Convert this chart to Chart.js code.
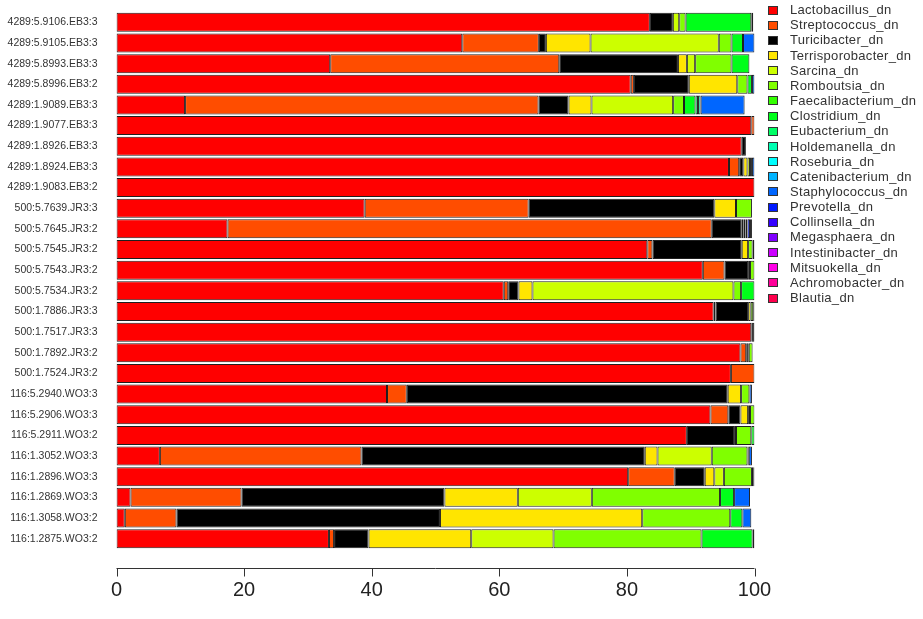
<!DOCTYPE html>
<html>
<head>
<meta charset="utf-8">
<script src="https://cdn.jsdelivr.net/npm/chart.js@4/dist/chart.umd.min.js"></script>
<style>
  html, body { margin: 0; padding: 0; background: #ffffff; }
  #wrap { width: 923px; height: 619px; position: relative; }
</style>
</head>
<body>
<div id="wrap"><canvas id="c" width="923" height="619"></canvas></div>
<script>
// Samples (top to bottom)
const samples = [
  '4289:5.9106.EB3:3', '4289:5.9105.EB3:3', '4289:5.8993.EB3:3', '4289:5.8996.EB3:2',
  '4289:1.9089.EB3:3', '4289:1.9077.EB3:3', '4289:1.8926.EB3:3', '4289:1.8924.EB3:3',
  '4289:1.9083.EB3:2', '500:5.7639.JR3:3', '500:5.7645.JR3:2', '500:5.7545.JR3:2',
  '500:5.7543.JR3:2', '500:5.7534.JR3:2', '500:1.7886.JR3:3', '500:1.7517.JR3:3',
  '500:1.7892.JR3:2', '500:1.7524.JR3:2', '116:5.2940.WO3:3', '116:5.2906.WO3:3',
  '116:5.2911.WO3:2', '116:1.3052.WO3:3', '116:1.2896.WO3:3', '116:1.2869.WO3:3',
  '116:1.3058.WO3:2', '116:1.2875.WO3:2'
];

const genera = [
  'Lactobacillus_dn', 'Streptococcus_dn', 'Turicibacter_dn', 'Terrisporobacter_dn',
  'Sarcina_dn', 'Romboutsia_dn', 'Faecalibacterium_dn', 'Clostridium_dn',
  'Eubacterium_dn', 'Holdemanella_dn', 'Roseburia_dn', 'Catenibacterium_dn',
  'Staphylococcus_dn', 'Prevotella_dn', 'Collinsella_dn', 'Megasphaera_dn',
  'Intestinibacter_dn', 'Mitsuokella_dn', 'Achromobacter_dn', 'Blautia_dn'
];

const genusColors = [
  '#FF0000', '#FF4D00', '#000000', '#FFE500', '#CCFF00', '#80FF00', '#33FF00', '#00FF19',
  '#00FF66', '#00FFB2', '#00FFFF', '#00B3FF', '#0066FF', '#0019FF', '#3300FF', '#7F00FF',
  '#CC00FF', '#FF00E6', '#FF0099', '#FF004D'
];

const xTicks = [0, 20, 40, 60, 80, 100];

// Relative abundance (%) per genus, one value per sample
const lactobacillus    = [83.6, 54.2, 33.5, 80.6, 10.75, 99.5, 98.0, 96.0, 100, 38.9, 17.4, 83.2, 91.9, 60.7, 93.6, 99.5, 97.8, 96.3, 42.4, 93.1, 89.4, 6.8, 80.2, 2.2, 1.3, 33.3];
const streptococcus    = [0, 12.0, 35.9, 0.5, 55.4, 0.5, 0, 1.6, 0, 25.7, 75.9, 0.8, 3.4, 0.7, 0.3, 0, 0.9, 3.7, 3.1, 2.8, 0, 31.6, 7.3, 17.4, 8.1, 0.8];
const turicibacter     = [3.6, 1.1, 18.6, 8.6, 4.7, 0, 0.65, 0.65, 0, 29.1, 4.7, 14.0, 3.7, 1.6, 5.1, 0.5, 0.4, 0, 50.3, 1.9, 7.4, 44.4, 4.7, 31.8, 41.3, 5.4];
const terrisporobacter = [0, 7.0, 1.4, 7.6, 3.6, 0, 0, 0.65, 0, 3.4, 0.3, 1.0, 0.3, 2.2, 0.4, 0, 0, 0, 2.1, 1.2, 0.3, 2.0, 1.5, 11.5, 31.7, 16.1];
const sarcina          = [1.0, 20.1, 1.3, 0, 12.8, 0, 0, 0.4, 0, 0, 0, 0, 0, 31.5, 0, 0, 0, 0, 0, 0.3, 0, 8.5, 1.5, 11.6, 0, 12.9];
const romboutsia       = [1.0, 2.0, 5.7, 1.6, 1.7, 0, 0, 0, 0, 2.5, 0, 0.7, 0.7, 1.2, 0.4, 0, 0.6, 0, 1.3, 0.7, 2.4, 5.6, 4.4, 20.1, 13.8, 23.2];
const faecalibacterium = [0, 0, 0, 0, 0, 0, 0, 0, 0, 0, 0, 0, 0, 0, 0, 0, 0, 0, 0, 0, 0, 0, 0, 0, 0, 0];
const clostridium      = [10.3, 1.8, 2.8, 0.7, 1.8, 0, 0, 0.3, 0, 0, 0.3, 0.3, 0, 2.1, 0.2, 0, 0, 0, 0, 0, 0.5, 0.2, 0.2, 2.2, 1.9, 8.0];
const eubacterium      = [0.3, 0, 0, 0, 0.4, 0, 0, 0, 0, 0, 0, 0, 0, 0, 0, 0, 0, 0, 0, 0, 0, 0, 0, 0, 0, 0.3];
const holdemanella     = [0, 0, 0, 0, 0.4, 0, 0, 0, 0, 0, 0, 0, 0, 0, 0, 0, 0, 0, 0, 0, 0, 0, 0, 0, 0, 0];
const roseburia        = [0, 0, 0, 0, 0, 0, 0, 0, 0, 0, 0, 0, 0, 0, 0, 0, 0, 0, 0, 0, 0, 0, 0, 0, 0, 0];
const catenibacterium  = [0, 0, 0, 0, 0, 0, 0, 0, 0, 0, 0.3, 0, 0, 0, 0, 0, 0, 0, 0, 0, 0, 0, 0, 0, 0, 0];
const staphylococcus   = [0, 1.8, 0, 0.4, 6.9, 0, 0, 0.4, 0, 0, 0, 0, 0, 0, 0, 0, 0, 0, 0.4, 0, 0, 0.5, 0.2, 2.5, 1.4, 0];
const prevotella       = [0, 0, 0, 0, 0, 0, 0, 0, 0, 0, 0.4, 0, 0, 0, 0, 0, 0, 0, 0, 0, 0, 0, 0, 0, 0, 0];
const collinsella      = [0, 0, 0, 0, 0, 0, 0, 0, 0, 0, 0, 0, 0, 0, 0, 0, 0, 0, 0, 0, 0, 0, 0, 0, 0, 0];
const megasphaera      = [0, 0, 0, 0, 0, 0, 0, 0, 0, 0, 0, 0, 0, 0, 0, 0, 0, 0, 0, 0, 0, 0, 0, 0, 0, 0];
const intestinibacter  = [0, 0, 0, 0, 0, 0, 0, 0, 0, 0, 0, 0, 0, 0, 0, 0, 0, 0, 0, 0, 0, 0, 0, 0, 0, 0];
const mitsuokella      = [0, 0, 0, 0, 0, 0, 0, 0, 0, 0, 0, 0, 0, 0, 0, 0, 0, 0, 0, 0, 0, 0, 0, 0, 0, 0];
const achromobacter    = [0, 0, 0, 0, 0, 0, 0, 0, 0, 0, 0.3, 0, 0, 0, 0, 0, 0, 0, 0, 0, 0, 0, 0, 0, 0, 0];
const blautia          = [0, 0, 0, 0, 0, 0, 0, 0, 0, 0, 0, 0, 0, 0, 0, 0, 0, 0, 0, 0, 0, 0, 0, 0, 0, 0];

const series = [
  lactobacillus, streptococcus, turicibacter, terrisporobacter, sarcina, romboutsia,
  faecalibacterium, clostridium, eubacterium, holdemanella, roseburia, catenibacterium,
  staphylococcus, prevotella, collinsella, megasphaera, intestinibacter, mitsuokella,
  achromobacter, blautia
];

const datasets = genera.map((name, i) => ({
  label: name,
  data: series[i],
  backgroundColor: genusColors[i],
  borderColor: '#1e1e1e',
  borderWidth: 1,
  borderSkipped: false,
  barPercentage: 0.92,
  categoryPercentage: 1.0
}));

// Axis line with tick marks, set a little below the bars
const axisLinePlugin = {
  id: 'axisLine',
  afterDraw(chart) {
    const xs = chart.scales.x;
    const ctx = chart.ctx;
    const y = Math.round(chart.chartArea.bottom + 19) + 0.5;
    ctx.save();
    ctx.strokeStyle = '#333333';
    ctx.lineWidth = 1;
    ctx.beginPath();
    ctx.moveTo(xs.getPixelForValue(xTicks[0]), y);
    ctx.lineTo(xs.getPixelForValue(xTicks[xTicks.length - 1]), y);
    xs.ticks.forEach(t => {
      const px = Math.round(xs.getPixelForValue(t.value)) + 0.5;
      ctx.moveTo(px, y);
      ctx.lineTo(px, y + 8);
    });
    ctx.stroke();
    ctx.restore();
  }
};

// Key of genera drawn in the right margin
const sideLegendPlugin = {
  id: 'sideLegend',
  afterDraw(chart) {
    const ctx = chart.ctx;
    const x0 = 768, y0 = 10, step = 15.16;
    ctx.save();
    ctx.font = '13px "Liberation Sans", Arial, sans-serif';
    if ('letterSpacing' in ctx) ctx.letterSpacing = '0.3px';
    ctx.textBaseline = 'middle';
    ctx.textAlign = 'left';
    chart.data.datasets.forEach((ds, i) => {
      const cy = y0 + i * step;
      ctx.fillStyle = ds.backgroundColor;
      ctx.fillRect(x0, Math.round(cy - 4.5), 10, 9);
      ctx.strokeStyle = '#333333';
      ctx.lineWidth = 1;
      ctx.strokeRect(x0 + 0.5, Math.round(cy - 4.5) + 0.5, 9, 8);
      ctx.fillStyle = '#333333';
      ctx.fillText(ds.label, 790, cy + 0.5);
    });
    ctx.restore();
  }
};

new Chart(document.getElementById('c'), {
  type: 'bar',
  data: { labels: samples, datasets },
  options: {
    indexAxis: 'y',
    responsive: false,
    devicePixelRatio: 1,
    animation: false,
    layout: { padding: { top: 12, right: 168.5, bottom: 0, left: 0 } },
    plugins: {
      legend: { display: false },
      tooltip: { enabled: false }
    },
    scales: {
      x: {
        stacked: true,
        min: 0,
        max: 100,
        afterBuildTicks(scale) { scale.ticks = xTicks.map(v => ({ value: v })); },
        ticks: {
          color: '#222222',
          font: { family: '"Liberation Sans", Arial, sans-serif', size: 20 },
          padding: 29,
          maxRotation: 0
        },
        grid: { display: false, drawTicks: false },
        border: { display: false },
        afterFit(scale) {
          scale.height = 70;
          scale.paddingLeft = 0;
          scale.paddingRight = 0;
        }
      },
      y: {
        stacked: true,
        ticks: {
          color: '#333333',
          font: { family: '"Liberation Sans", Arial, sans-serif', size: 10.5 },
          padding: 19,
          autoSkip: false
        },
        grid: { display: false, drawTicks: false },
        border: { display: false },
        afterFit(scale) {
          scale.width = 116.5;
          scale.paddingTop = 0;
          scale.paddingBottom = 0;
        }
      }
    }
  },
  plugins: [axisLinePlugin, sideLegendPlugin]
});
</script>
</body>
</html>
